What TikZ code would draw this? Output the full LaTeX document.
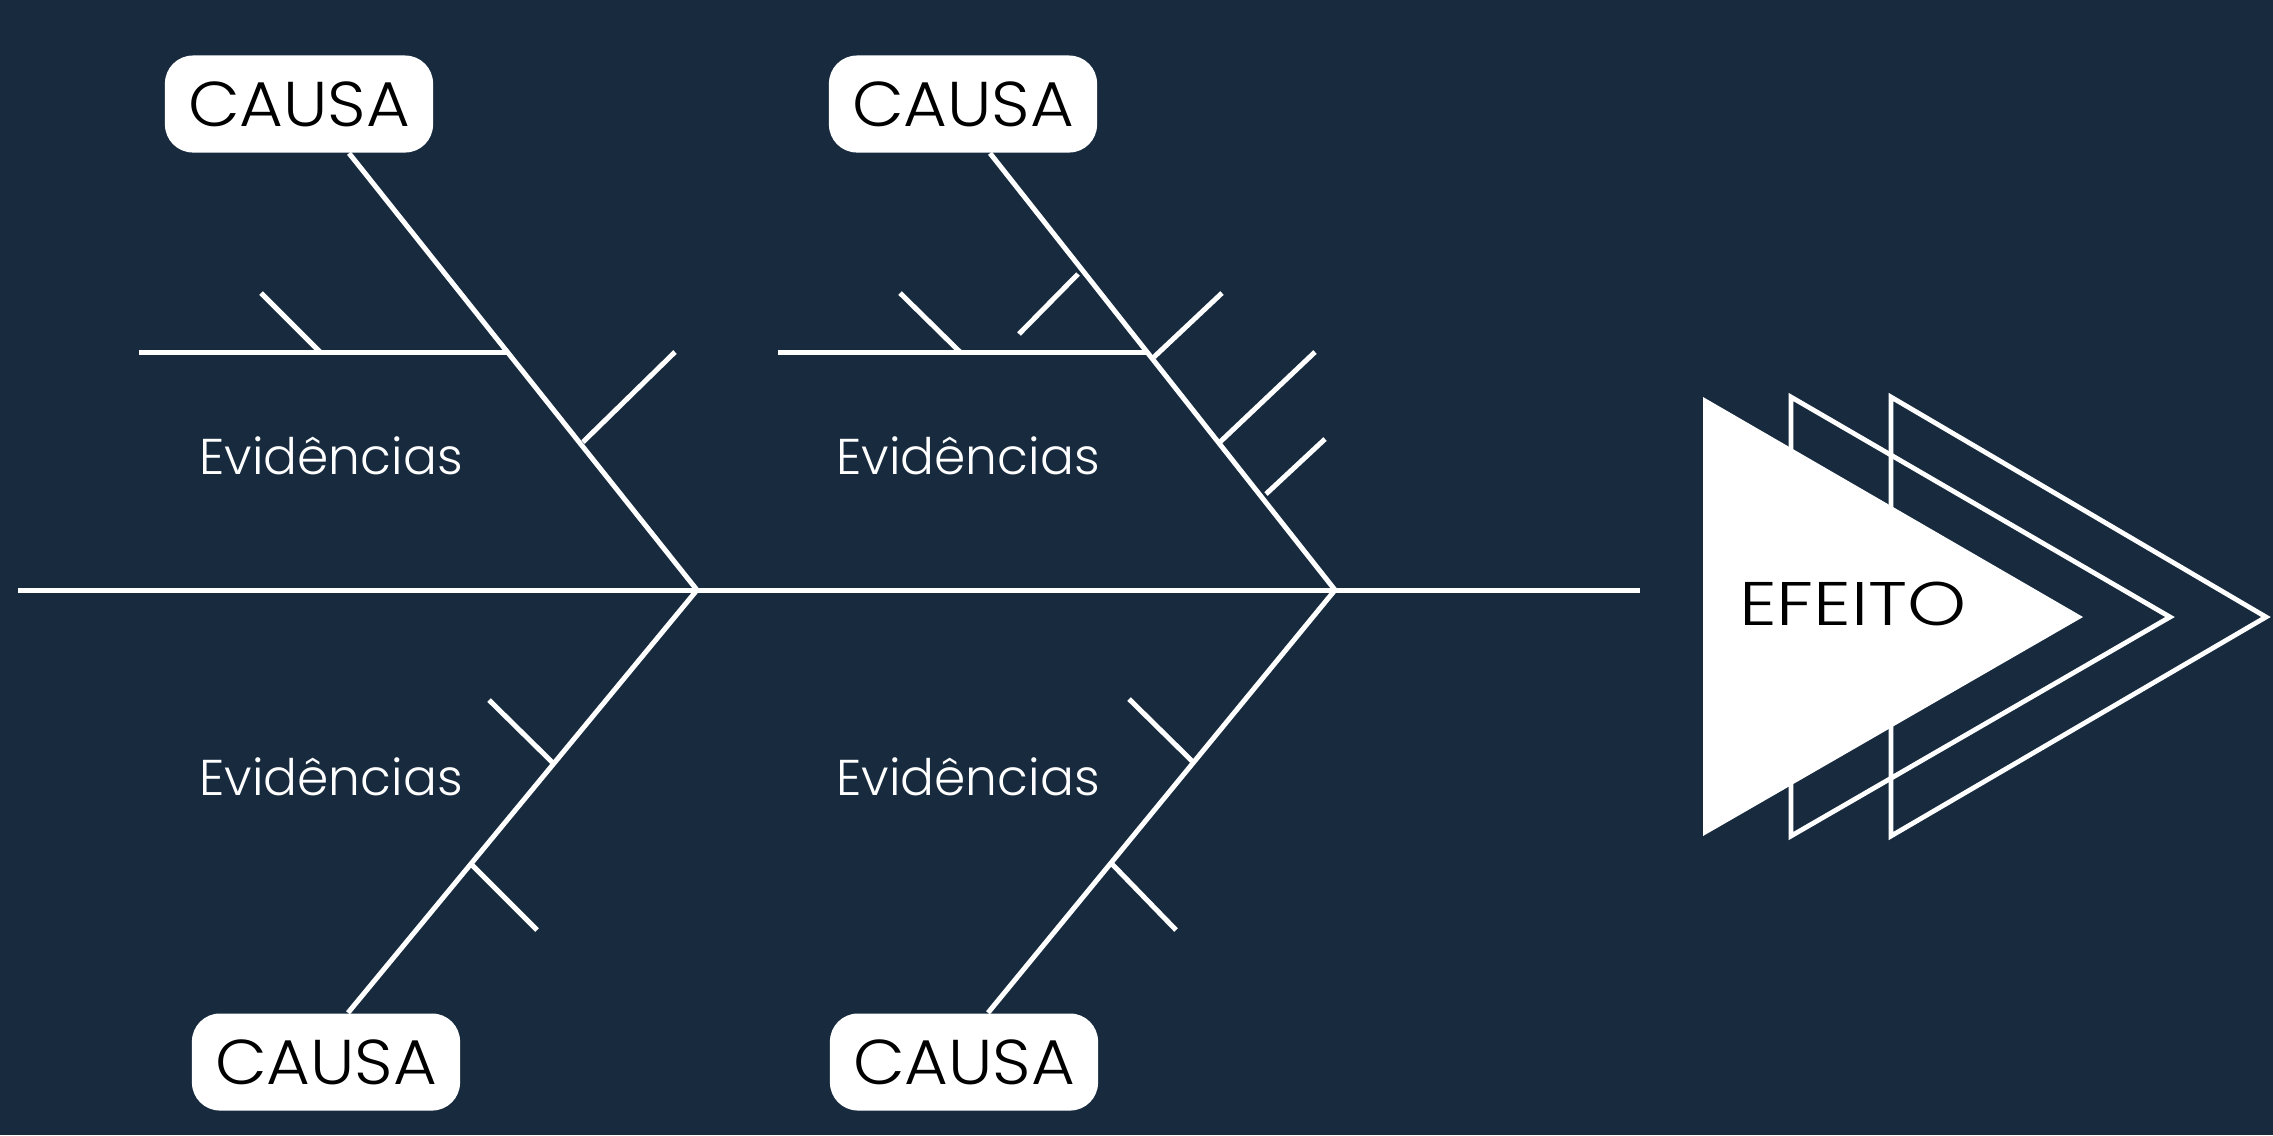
\documentclass[tikz,border=0pt]{standalone}
\usepackage{fontspec}
\setmainfont{Poppins}[UprightFont={* Light}]
\newfontfamily\causafont{Poppins}[UprightFont={* Light}, FakeStretch=1.06]
\newfontfamily\efeitofont{Poppins}[UprightFont={* Light}, FakeStretch=1.22]
\definecolor{navy}{RGB}{23,42,62}

\begin{document}
\begin{tikzpicture}[
    x=0.01cm, y=-0.01cm, %one unit is one pixel of the picture
    bone/.style={draw=white, line width=1.42pt},
    tri/.style={draw=white, line width=1.36pt},
    causa/.style={rectangle, rounded corners=0.28cm, fill=white,
        minimum width=2.68cm, minimum height=0.97cm, inner sep=0pt,
        text=black, font=\causafont\fontsize{18}{20}\selectfont},
    evid/.style={anchor=base, text=white, inner sep=0pt,
        font=\fontsize{14.3}{16}\selectfont},
    ]

    %background
    \fill[navy] (0,0) rectangle (2273,1135);
    \useasboundingbox (0,0) rectangle (2273,1135);

    %causas
    \node[causa] (causaTL) at (299,104) {CAUSA};
    \node[causa] (causaTR) at (963,104) {CAUSA};
    \node[causa] (causaBL) at (326,1062) {CAUSA};
    \node[causa] (causaBR) at (964,1062) {CAUSA};

    %spine
    \coordinate (spineS) at (18,590);
    \coordinate (spineE) at (1640,590);
    \coordinate (jL) at (697,590);
    \coordinate (jR) at (1335,590);
    \draw[bone] (spineS) -- (spineE);

    %bones
    \coordinate (bTL) at ([xshift=0.5cm]causaTL.south);
    \coordinate (bTR) at ([xshift=0.27cm]causaTR.south);
    \coordinate (bBL) at ([xshift=0.22cm]causaBL.north);
    \coordinate (bBR) at ([xshift=0.24cm]causaBR.north);
    \draw[bone] (jL) -- (bTL);
    \draw[bone] (jR) -- (bTR);
    \draw[bone] (jL) -- (bBL);
    \draw[bone] (jR) -- (bBR);

    %branches
    \coordinate (brTL) at (508,352);
    \coordinate (brTR) at (1148,352);
    \draw[bone] (139,352) -- (brTL);
    \draw[bone] (778,352) -- (brTR);

    %ticks
    \draw[bone] (261,293) -- (320,352);
    \draw[bone] (583,442) -- (675,352);
    \draw[bone] (900,293) -- (960,352);
    \draw[bone] (1019,334) -- (1078,274);
    \draw[bone] (1154,357) -- (1222,293);
    \draw[bone] (1220,442) -- (1315,352);
    \draw[bone] (1266,494) -- (1325,439);
    \draw[bone] (489,700) -- (553,763);
    \draw[bone] (472,865) -- (537,930);
    \draw[bone] (1129,699) -- (1193,762);
    \draw[bone] (1112,864) -- (1176,930);

    %evidencias
    \node[evid] (evTL) at (331,474) {Evidências};
    \node[evid] (evTR) at (968,474) {Evidências};
    \node[evid] (evBL) at (331,795) {Evidências};
    \node[evid] (evBR) at (968,795) {Evidências};

    %efeito
    \draw[tri] (1891,397) -- (2266,617) -- (1891,836) -- cycle;
    \draw[tri] (1791,397) -- (2170,617) -- (1791,836) -- cycle;
    \fill[white] (1703,397) -- (2083,617) -- (1703,836) -- cycle;
    \node[text=black, font=\efeitofont\fontsize{17.5}{20}\selectfont] (efeito)
        at (1853,604) {EFEITO};

\end{tikzpicture}
\end{document}
